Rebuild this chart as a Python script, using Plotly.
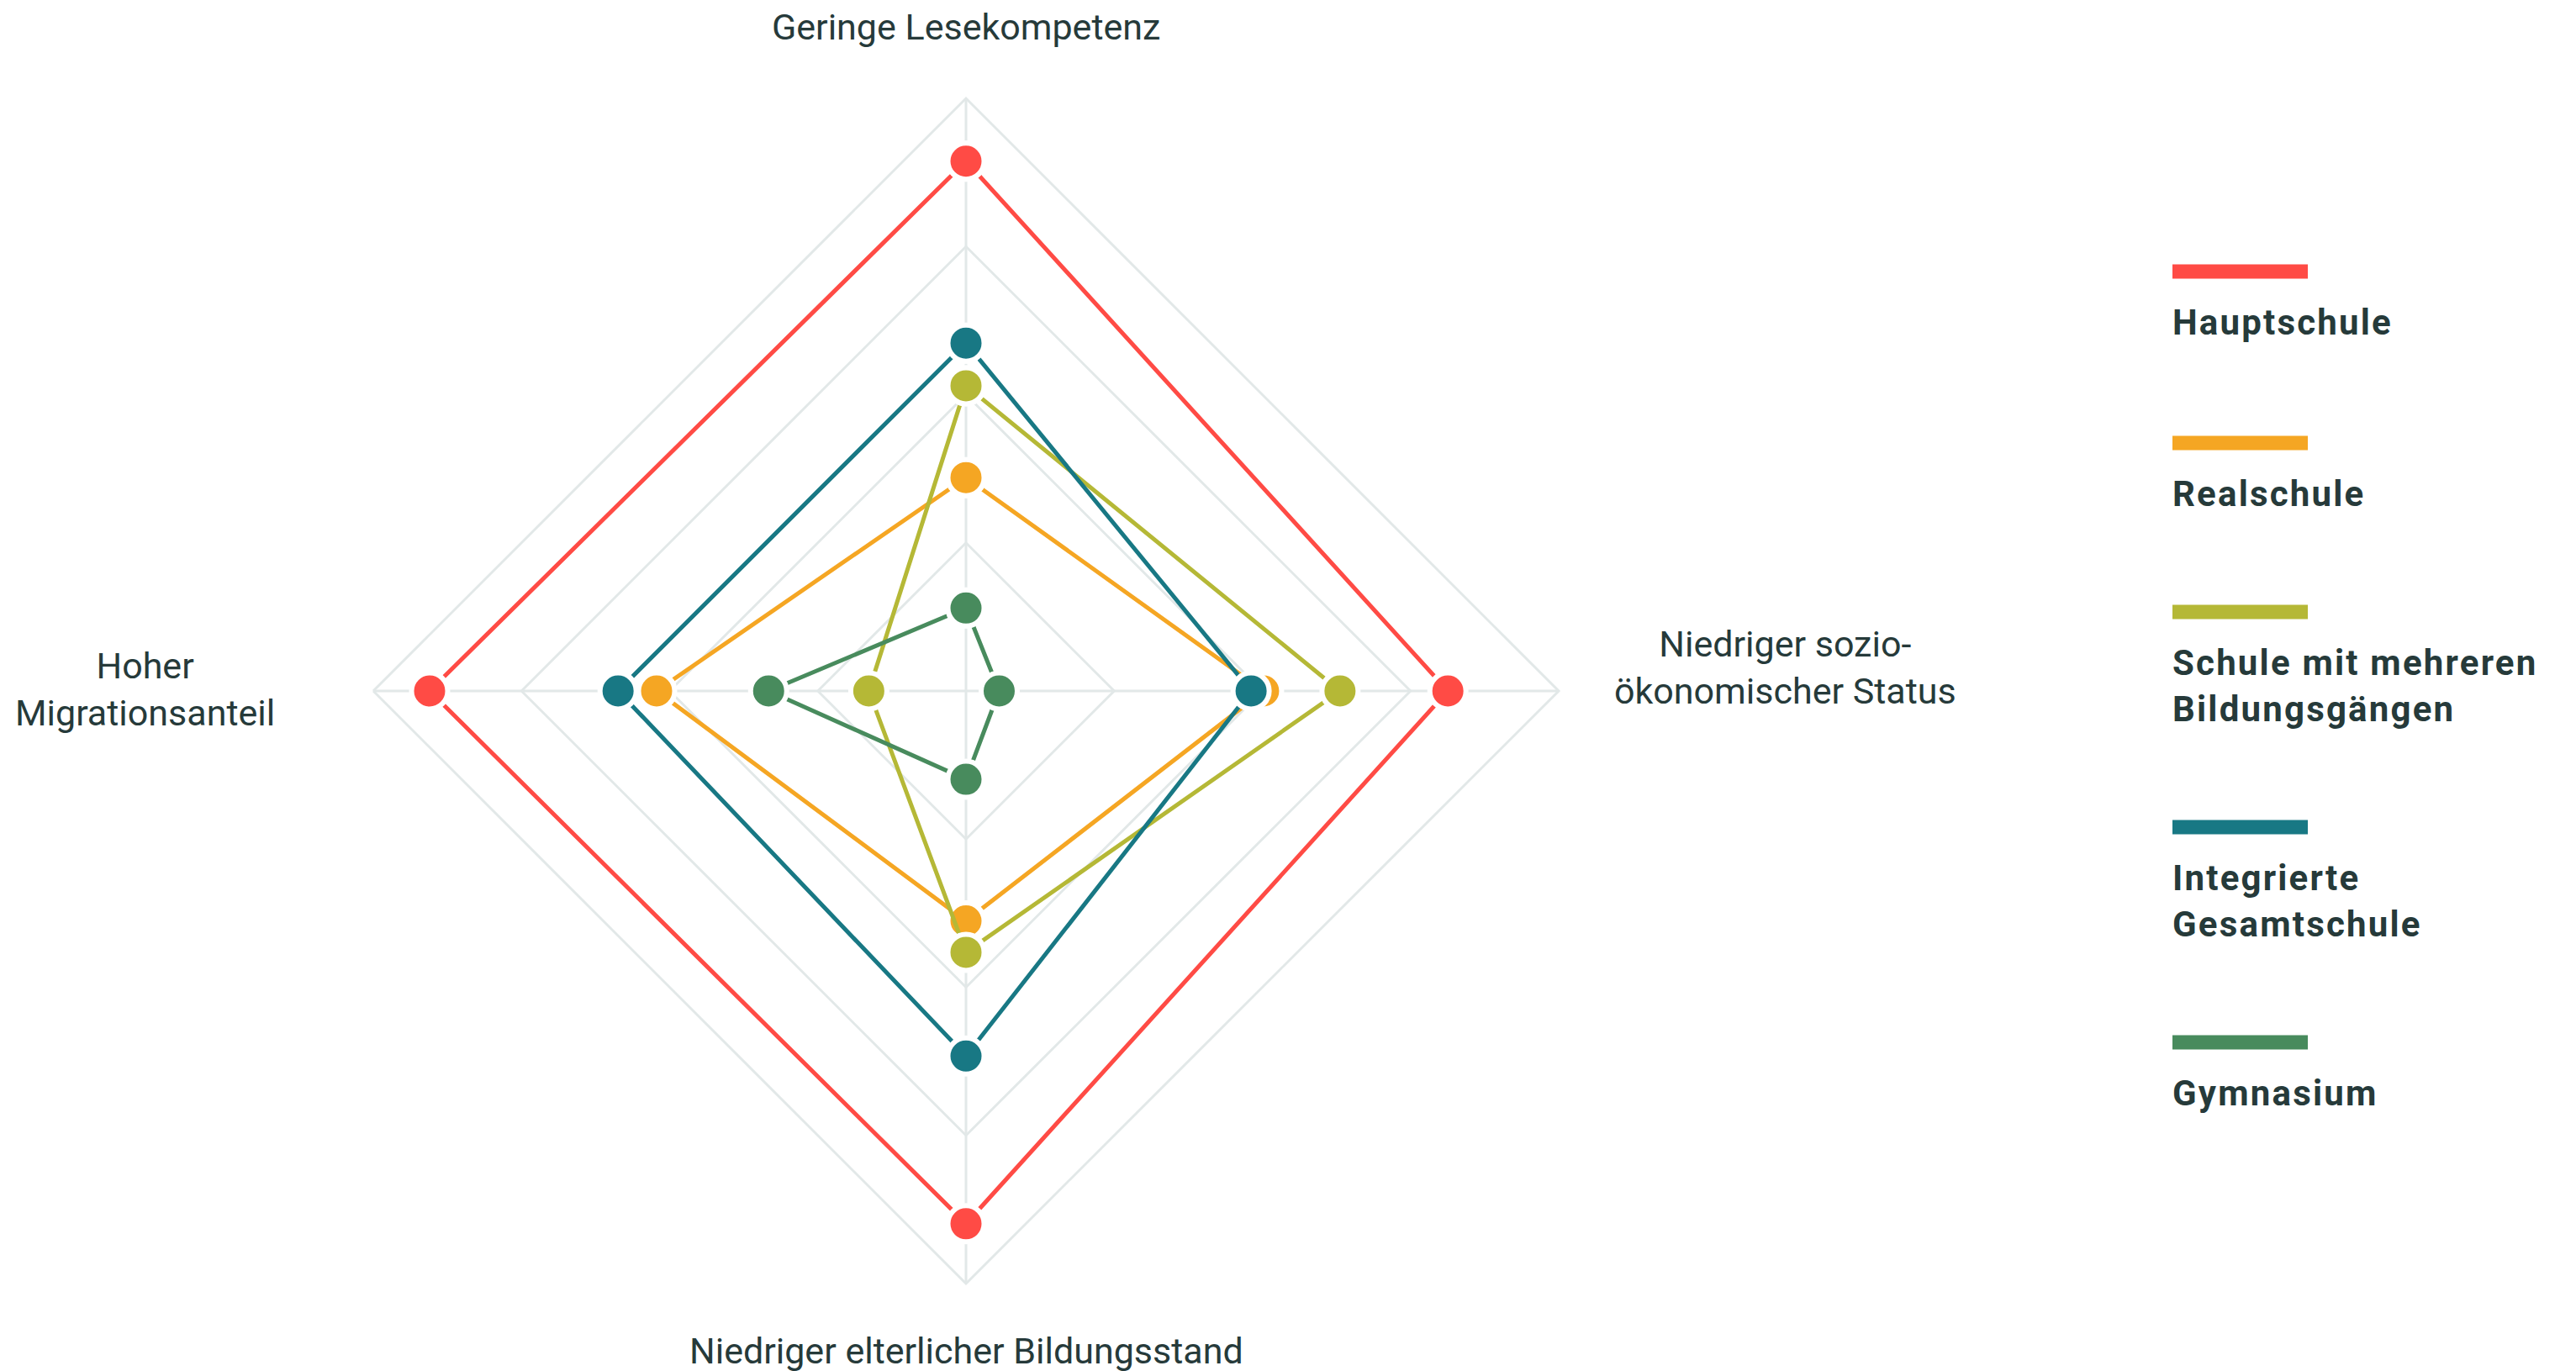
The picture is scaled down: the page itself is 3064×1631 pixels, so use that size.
import plotly.graph_objects as go

# ---- data ----
axes_labels = [
    "Geringe Lesekompetenz",
    "Niedriger sozio-ökonomischer Status",
    "Niedriger elterlicher Bildungsstand",
    "Hoher Migrationsanteil",
]
series_names = [
    "Hauptschule",
    "Realschule",
    "Schule mit mehreren Bildungsgängen",
    "Integrierte Gesamtschule",
    "Gymnasium",
]
hauptschule = [89.4, 81.3, 89.9, 90.5]
realschule = [36.0, 50.2, 38.8, 52.2]
mehrere_bildungsgaenge = [51.5, 63.1, 44.1, 16.4]
integrierte_gesamtschule = [58.7, 48.1, 61.6, 58.7]
gymnasium = [14.0, 5.6, 14.9, 33.3]
radial_ticks = [25, 50, 75, 100]

# ---- styles ----
colors = ["#FF4B45", "#F5A623", "#B5B836", "#187884", "#488B5D"]
legend_labels = [
    "Hauptschule",
    "Realschule",
    "Schule mit mehreren<br>Bildungsgängen",
    "Integrierte<br>Gesamtschule",
    "Gymnasium",
]
axis_label_text = [
    "Geringe Lesekompetenz",
    "Niedriger sozio-<br>ökonomischer Status",
    "Niedriger elterlicher Bildungsstand",
    "Hoher<br>Migrationsanteil",
]
TEXT = "#263A3A"
GRID = "#E2E8E8"
W, H = 3064, 1631

values = [hauptschule, realschule, mehrere_bildungsgaenge, integrierte_gesamtschule, gymnasium]

fig = go.Figure()
for name, vals, col in zip(series_names, values, colors):
    fig.add_trace(go.Scatterpolar(
        r=vals + [vals[0]],
        theta=axes_labels + [axes_labels[0]],
        mode="lines+markers",
        name=name,
        line=dict(color=col, width=5),
        marker=dict(size=43, color=col, line=dict(color="white", width=6)),
        showlegend=False,
        cliponaxis=False,
    ))

cx, cy, R = 1149, 822, 705
fig.update_layout(
    width=W, height=H,
    margin=dict(l=0, r=0, t=0, b=0),
    paper_bgcolor="white",
    plot_bgcolor="white",
    font=dict(family="Roboto", color=TEXT, size=43),
    polar=dict(
        domain=dict(x=[(cx - R) / W, (cx + R) / W], y=[(H - cy - R) / H, (H - cy + R) / H]),
        gridshape="linear",
        bgcolor="white",
        radialaxis=dict(range=[0, 100], tickvals=radial_ticks, showticklabels=False,
                        showline=False, gridcolor=GRID, gridwidth=3, ticks=""),
        angularaxis=dict(rotation=90, direction="clockwise", showticklabels=False,
                         gridcolor=GRID, gridwidth=3, showline=True, linecolor=GRID,
                         linewidth=3, ticks=""),
    ),
)

# axis labels (category names)
label_pos = [(1149, 32), (2123, 794), (1149, 1607), (172, 820)]
for txt, (x, y) in zip(axis_label_text, label_pos):
    fig.add_annotation(text=txt, x=x / W, y=1 - y / H, xref="paper", yref="paper",
                       xanchor="center", yanchor="middle", align="center", showarrow=False,
                       font=dict(family="Roboto", size=43, color=TEXT))

# custom legend
bar_centers = [323, 527, 728, 984, 1240]
lx0, lx1 = 2584, 2745
for lab, col, yc in zip(legend_labels, colors, bar_centers):
    fig.add_shape(type="rect", xref="paper", yref="paper",
                  x0=lx0 / W, x1=lx1 / W, y0=1 - (yc + 8.5) / H, y1=1 - (yc - 8.5) / H,
                  fillcolor=col, line=dict(width=0))
    fig.add_annotation(text='<span style="letter-spacing:2.2px">' + lab + '</span>',
                       x=(lx0 - 2) / W, y=1 - (yc + 34) / H, xref="paper", yref="paper",
                       xanchor="left", yanchor="top", align="left", showarrow=False,
                       font=dict(family="Roboto", size=42, color=TEXT, weight=700))

fig.write_html("out.html", config={"displayModeBar": False},
               post_script="document.body.style.margin='0';document.body.style.overflow='hidden';")
